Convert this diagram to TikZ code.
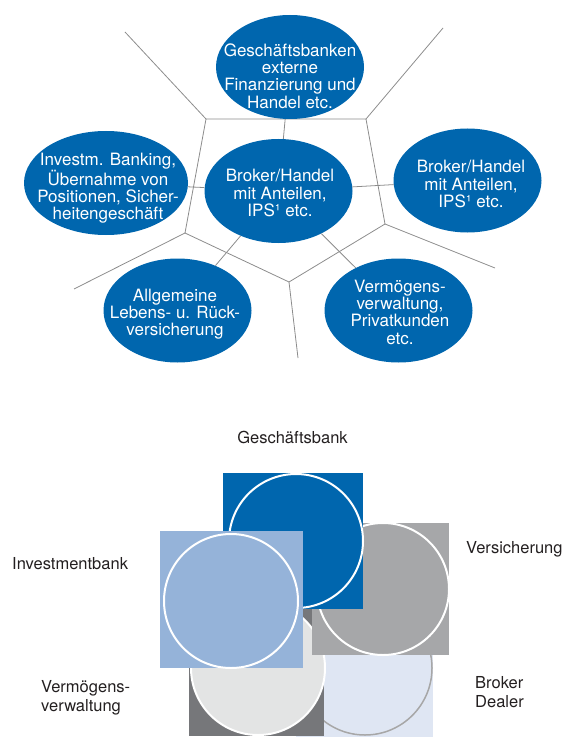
\documentclass[tikz,border=0pt]{standalone}
\usepackage{fontspec}
\setmainfont{TeX Gyre Heros}
\usetikzlibrary{shapes.geometric}
\definecolor{gbblue}{HTML}{0066AE}
\definecolor{ibblue}{HTML}{95B3D9}
\definecolor{vsgray}{HTML}{A6A7A9}
\definecolor{vwdark}{HTML}{76777A}
\definecolor{vwlight}{HTML}{E3E4E4}
\definecolor{bdpale}{HTML}{DFE6F3}
\definecolor{bdring}{HTML}{A7A7A7}
\definecolor{netgray}{HTML}{8C8C8C}
\definecolor{lblgray}{HTML}{231F20}
\tikzset{
	bub/.style={ellipse, minimum width=148pt, minimum height=104pt, inner sep=0pt, fill=gbblue},
	bubtxt/.style={align=center, text=white, inner sep=0pt, font=\fontsize{17}{17.3}\selectfont},
	vline/.style={draw=netgray, line width=0.8pt},
	sqr/.style={rectangle, inner sep=0pt, outer sep=0pt},
	disc/.style={circle, minimum size=134pt, inner sep=0pt, draw=white, line width=2pt},
	lbl/.style={text=lblgray, inner sep=0pt, align=left, font=\fontsize{16.5}{19}\selectfont},
}

\begin{document}
\begin{tikzpicture}[x=1pt,y=-1pt]
\useasboundingbox (0,0) rectangle (570,746);

% cell borders
\coordinate (p1) at (206,119);
\coordinate (p2) at (366,119);
\coordinate (p3) at (385,224);
\coordinate (p4) at (289,282);
\coordinate (p5) at (185,233);
\coordinate (q1) at (125,32);
\coordinate (q2) at (443,28);
\coordinate (q3) at (495,268);
\coordinate (q4) at (298,358);
\coordinate (q5) at (74,289);

\draw [vline] (p1) -- (p2) -- (p3) -- (p4) -- (p5) -- cycle;
\draw [vline] (p1) -- (q1); % top left
\draw [vline] (p2) -- (q2); % top right
\draw [vline] (p3) -- (q3); % right
\draw [vline] (p4) -- (q4); % bottom
\draw [vline] (p5) -- (q5); % left

\node [bub] (gb) at (290,67) {};
\node [bub, minimum width=164pt] (ib) at (106,183) {};
\node [bub] (ctr) at (278.5,191) {};
\node [bub] (bh) at (467.5,180.5) {};
\node [bub] (lr) at (177.5,310.5) {};
\node [bub] (vw) at (398.5,310.5) {};

\draw [vline] (ctr) -- (gb);
\draw [vline] (ctr) -- (ib);
\draw [vline] (ctr) -- (bh);
\draw [vline] (ctr) -- (lr);
\draw [vline] (ctr) -- (vw);

\node [bubtxt] (gb-t) at (290,76) {Geschäftsbanken\\externe\\Finanzierung und\\Handel etc.};
\node [bubtxt] (ib-t) at (108,188) {Investm. Banking,\\Übernahme von\\Positionen, Sicher-\\heitengeschäft};
\node [bubtxt] (ctr-t) at (280,193) {Broker/Handel\\mit Anteilen,\\IPS¹ etc.};
\node [bubtxt] (bh-t) at (471,184) {Broker/Handel\\mit Anteilen,\\IPS¹ etc.};
\node [bubtxt] (lr-t) at (175,314) {Allgemeine\\Lebens- u. Rück-\\versicherung};
\node [bubtxt] (vw-t) at (400,312) {Vermögens-\\verwaltung,\\Privatkunden\\etc.};

% squares and circles, back to front
\node [sqr, fill=bdpale, minimum width=137pt, minimum height=137pt] (bdsq) at (364.5,668.5) {};
\node [disc, fill=bdpale, draw=bdring, line width=1.5pt] (bdci) at (365,668) {};

\node [sqr, fill=vwdark, minimum width=135pt, minimum height=136pt] (vwsq) at (256.5,668) {};
\node [disc, fill=vwlight] (vwci) at (258,668) {};

\node [sqr, fill=vsgray, minimum width=137pt, minimum height=132pt] (vssq) at (380.5,589) {};
\node [disc, fill=vsgray, minimum size=132pt] (vsci) at (383,589) {};

\node [sqr, fill=gbblue, minimum width=140pt, minimum height=136pt] (gbsq) at (293,541) {};
\node [disc, fill=gbblue] (gbci) at (296,541) {};

\node [sqr, fill=ibblue, minimum width=143pt, minimum height=137pt] (ibsq) at (231.5,599.5) {};
\node [disc, fill=ibblue] (ibci) at (231,601) {};

\node [lbl, anchor=base] (gb-l) at (292.5,443) {Geschäftsbank};
\node [lbl, anchor=base west] (ib-l) at (12,569) {Investmentbank};
\node [lbl, anchor=base west] (vs-l) at (466,553) {Versicherung};
\node [lbl, anchor=base west] (vw-l) at (41,711) {Vermögens-\\verwaltung};
\node [lbl, anchor=base west] (bd-l) at (475,707) {Broker\\Dealer};
\end{tikzpicture}
\end{document}
